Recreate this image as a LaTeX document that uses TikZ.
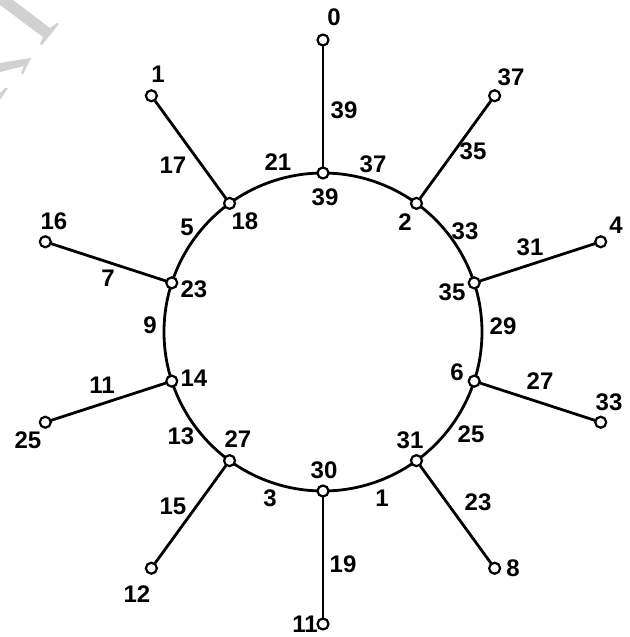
\documentclass[tikz,border=0pt]{standalone}
\usepackage{fontspec}
\setmainfont{Liberation Sans}
\usetikzlibrary{calc,backgrounds}
\begin{document}
\begin{tikzpicture}[x=1pt,y=-1pt,
  vtx/.style={circle,draw=black,fill=white,line width=2.2pt,minimum size=11pt,inner sep=0pt},
  edge/.style={line width=2.8pt,line cap=round},
  lbl/.style={font=\fontsize{24}{26}\selectfont\bfseries,inner sep=0pt},
  wmark/.style={fill=black!18,draw=none}]
\useasboundingbox (0,0) rectangle (629,637);
\coordinate (C) at (323,332);
% vertices on the ring (visual angle / name)
\foreach \a/\n in {90/v39,54/v2,18/v35,-18/v6,-54/v31,-90/v30,-126/v27,-162/v14,162/v23,126/v18}
  \node[vtx] (\n) at ($(C)+(-\a:159)$) {};
% pendant vertices
\foreach \a/\n in {90/o0,54/o37,18/o4,-18/o33,-54/o8,-90/o11,-126/o12,-162/o25,162/o16,126/o1}
  \node[vtx] (\n) at ($(C)+(-\a:292)$) {};
\begin{scope}[on background layer]
  % faint watermark fragment
  \fill[wmark] (0,0)--(13,0)--(50,28)--(57,23)--(59,24)--(42,45)--(40,44)--(43,37)--(0,5)--cycle;
  \fill[wmark] (0,63)--(31,58)--(23,74)--(21,73)--(24,66)--(0,72)--cycle;
  \fill[wmark] (0,100)--(8,88)--(5,88)--(0,93)--cycle;
  % ring arcs
  \foreach \n/\a in {v39/90,v2/54,v35/18,v6/-18,v31/-54,v30/-90,v27/-126,v14/-162,v23/-198,v18/-234}
    \draw[edge] (\n.center) arc[start angle=\a, end angle=\a-36, radius=159pt];
\end{scope}
% pendant edges
\foreach \i/\o in {v39/o0,v2/o37,v35/o4,v6/o33,v31/o8,v30/o11,v27/o12,v14/o25,v23/o16,v18/o1}
  \draw[edge] (\i) -- (\o);
% vertex labels (ring)
\node[lbl] (t39) at (325,197) {39};
\node[lbl] (t2)  at (405,222) {2};
\node[lbl] (t35) at (452,292) {35};
\node[lbl] (t6)  at (457,372) {6};
\node[lbl] (t31) at (410,440) {31};
\node[lbl] (t30) at (324,470) {30};
\node[lbl] (t27) at (238,439) {27};
\node[lbl] (t14) at (194,378) {14};
\node[lbl] (t23) at (194,289) {23};
\node[lbl] (t18) at (245,221) {18};
% vertex labels (pendants)
\node[lbl] (p0)  at (334,17)  {0};
\node[lbl] (p37) at (511,77)  {37};
\node[lbl] (p4)  at (616,225) {4};
\node[lbl] (p33) at (609,402) {33};
\node[lbl] (p8)  at (513,568) {8};
\node[lbl] (p11) at (305,624) {11};
\node[lbl] (p12) at (137,594) {12};
\node[lbl] (p25) at (28,440)  {25};
\node[lbl] (p16) at (54,221)  {16};
\node[lbl] (p1)  at (158,74)  {1};
% edge labels
\node[lbl] (e39) at (344,110) {39};
\node[lbl] (e21) at (278,162) {21};
\node[lbl] (e37) at (373,164) {37};
\node[lbl] (e35) at (473,151) {35};
\node[lbl] (e33) at (465,231) {33};
\node[lbl] (e31) at (530,247) {31};
\node[lbl] (e29) at (503,326) {29};
\node[lbl] (e27) at (540,381) {27};
\node[lbl] (e25) at (471,434) {25};
\node[lbl] (e23) at (478,502) {23};
\node[lbl] (e1)  at (382,498) {1};
\node[lbl] (e19) at (343,564) {19};
\node[lbl] (e3)  at (270,498) {3};
\node[lbl] (e15) at (173,506) {15};
\node[lbl] (e13) at (181,436) {13};
\node[lbl] (e11) at (102,385) {11};
\node[lbl] (e9)  at (150,325) {9};
\node[lbl] (e7)  at (108,278) {7};
\node[lbl] (e5)  at (187,227) {5};
\node[lbl] (e17) at (173,165) {17};
\end{tikzpicture}
\end{document}
